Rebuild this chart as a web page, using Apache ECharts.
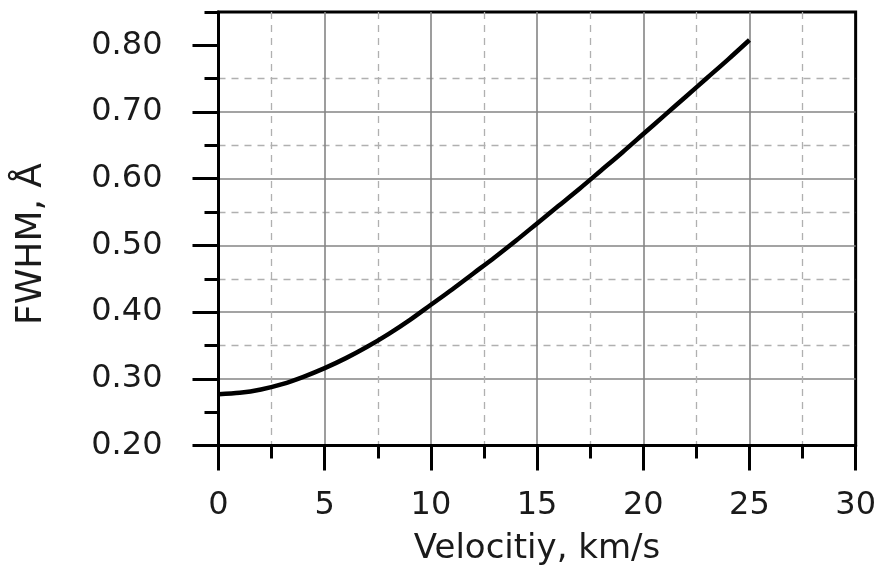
<!DOCTYPE html>
<html>
<head>
<meta charset="utf-8">
<title>FWHM vs velocity</title>
<script src="https://cdn.jsdelivr.net/npm/echarts@6/dist/echarts.min.js"></script>
<style>
  html, body { margin: 0; padding: 0; background: #fff; }
  #chart { width: 879px; height: 580px; }
</style>
</head>
<body>
<div id="chart"></div>
<script>
// Line width (FWHM) against velocity
const velocity = [0, 1, 2, 3, 4, 5, 6, 7, 8, 9, 10, 11, 12, 13, 14, 15, 16, 17, 18, 19, 20, 21, 22, 23, 24, 25];
const fwhm = [0.277, 0.279, 0.284, 0.292, 0.303, 0.316, 0.331, 0.348, 0.367, 0.388, 0.411, 0.434, 0.458, 0.482, 0.507,
              0.533, 0.559, 0.585, 0.612, 0.639, 0.667, 0.695, 0.723, 0.751, 0.779, 0.808];

// Axis tick positions
const yMajorTicks = [0.2, 0.3, 0.4, 0.5, 0.6, 0.7, 0.8];
const yMinorTicks = [0.25, 0.35, 0.45, 0.55, 0.65, 0.75, 0.85];
const xTitle = 'Velocitiy, km/s';
const yTitle = 'FWHM, Å';

const FONT = 'DejaVu Sans';
const chart = echarts.init(document.getElementById('chart'), null, { renderer: 'canvas' });

const points = velocity.map((v, i) => [v, fwhm[i]]);

chart.setOption({
  animation: false,
  backgroundColor: '#fff',
  grid: {
    left: 218.5, right: 22.5, top: 12, bottom: 134.5,
    show: true, borderColor: '#000', borderWidth: 3, backgroundColor: 'transparent'
  },
  xAxis: {
    type: 'value', min: 0, max: 30, interval: 5,
    name: xTitle, nameLocation: 'middle', nameGap: 87,
    nameTextStyle: { fontFamily: FONT, fontSize: 34, color: '#1a1a1a' },
    axisLine: { show: true, lineStyle: { color: '#000', width: 3 } },
    axisTick: { show: true, length: 25, lineStyle: { color: '#000', width: 3 } },
    minorTick: { show: true, splitNumber: 2, length: 13, lineStyle: { color: '#000', width: 3 } },
    axisLabel: { fontFamily: FONT, fontSize: 32, color: '#1a1a1a', margin: 44 },
    splitLine: { show: true, showMinLine: false, showMaxLine: false, lineStyle: { color: '#858585', width: 1.6 } },
    minorSplitLine: { show: true, lineStyle: { color: '#b0b0b0', width: 1.3, type: [7, 6] } }
  },
  yAxis: [
    {
      type: 'value', min: 0.2, max: 0.85, interval: 0.1, position: 'left',
      axisLine: { show: true, lineStyle: { color: '#000', width: 3 } },
      axisTick: { show: true, customValues: yMajorTicks, length: 26, lineStyle: { color: '#000', width: 3 } },
      axisLabel: { customValues: yMajorTicks, fontFamily: FONT, fontSize: 32, color: '#1a1a1a', margin: 56,
                   formatter: v => v.toFixed(2) },
      splitLine: { show: true, showMinLine: false, showMaxLine: false, lineStyle: { color: '#858585', width: 1.6 } }
    },
    {
      type: 'value', min: 0.2, max: 0.85, interval: 0.1, position: 'left', offset: 0,
      axisLine: { show: false },
      axisTick: { show: true, customValues: yMinorTicks, length: 14, lineStyle: { color: '#000', width: 3 } },
      axisLabel: { show: false },
      splitLine: { show: true, showMinLine: false, showMaxLine: false,
                   lineStyle: { color: '#b0b0b0', width: 1.3, type: [7, 6] } }
    }
  ],
  graphic: [{
    type: 'text', x: 32, y: 244, rotation: Math.PI / 2,
    style: { text: yTitle, fontFamily: FONT, fontSize: 36, fill: '#1a1a1a', align: 'center', verticalAlign: 'middle' }
  }],
  series: [{
    type: 'line', data: points, xAxisIndex: 0, yAxisIndex: 0,
    smooth: 0.3, showSymbol: false, symbol: 'none',
    lineStyle: { color: '#000', width: 4.5 }, z: 10
  }]
});
</script>
</body>
</html>
